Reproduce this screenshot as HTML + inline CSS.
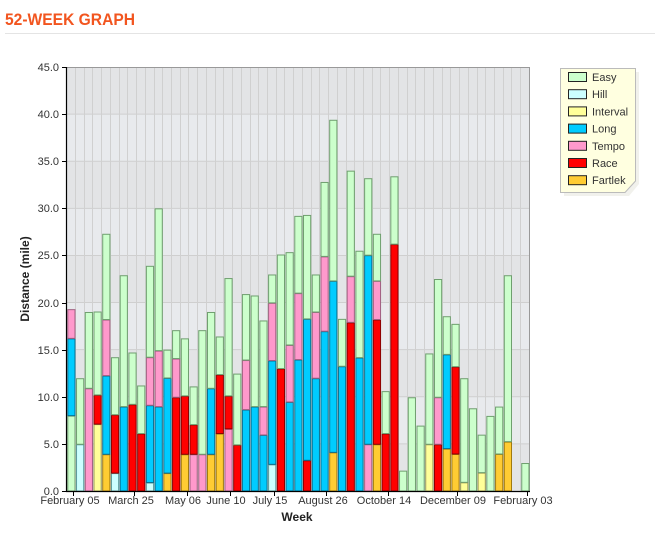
<!DOCTYPE html>
<html><head><meta charset="utf-8"><style>
html,body{margin:0;padding:0;background:#fff;width:655px;height:533px;overflow:hidden}
svg{display:block}
text{font-family:"Liberation Sans",sans-serif}
</style></head><body>
<svg id="s" width="655" height="533" xmlns="http://www.w3.org/2000/svg">
<text x="5" y="25" font-size="17" font-weight="bold" fill="#f2551f" textLength="130" lengthAdjust="spacingAndGlyphs">52-WEEK GRAPH</text>
<rect x="5" y="33" width="650" height="1" fill="#e4e4e4"/>
<g id="bg"></g>
<g id="bars"></g>
<line x1="66.5" y1="67" x2="66.5" y2="491" stroke="#000" stroke-width="1.2"/>
<line x1="66" y1="491.5" x2="530" y2="491.5" stroke="#000" stroke-width="1.2"/>
<g id="ticks" stroke="#000" stroke-width="1"></g>
<g font-size="11" fill="#333" text-anchor="end">
<text x="59" y="71">45.0</text><text x="59" y="118">40.0</text><text x="59" y="165">35.0</text><text x="59" y="212">30.0</text><text x="59" y="259">25.0</text><text x="59" y="307">20.0</text><text x="59" y="354">15.0</text><text x="59" y="401">10.0</text><text x="59" y="448">5.0</text><text x="59" y="495">0.0</text>
</g>
<g font-size="11" fill="#333" text-anchor="middle">
<text x="70" y="504">February 05</text><text x="131" y="504">March 25</text><text x="183" y="504">May 06</text><text x="226" y="504">June 10</text><text x="270" y="504">July 15</text><text x="323" y="504">August 26</text><text x="384" y="504">October 14</text><text x="453" y="504">December 09</text><text x="523" y="504">February 03</text>
</g>
<text x="297" y="521" font-size="12" font-weight="bold" fill="#222" text-anchor="middle">Week</text>
<text transform="translate(29,279) rotate(-90)" font-size="12" font-weight="bold" fill="#222" text-anchor="middle">Distance (mile)</text>
<path d="M562,70 H637 V182 L627,194 H562 Z" fill="#e8e8e0" transform="translate(2,2)" opacity="0.6"/>
<path d="M560.5,68.5 H635.5 V181 L625,192.5 H560.5 Z" fill="#ffffe0" stroke="#bbb"/>
<g id="leg" font-size="11" fill="#333"></g>
</svg>
<script>
var C={E:['#ccffcc','#6f9f6f'],H:['#ccffff','#5a9a9a'],I:['#ffff99','#9a9a55'],L:['#00ccff','#0a7090'],T:['#ff99cc','#a06080'],R:['#ff0000','#8a0000'],F:['#ffcc33','#a07a10']};
var D=[
"E8 L16.2 T19.3","H4.96 E11.97","T10.9 E19","I7.1 R10.2 E19.05","F3.9 L12.25 T18.2 E27.3","H1.9 R8.1 E14.2","L8.96 E22.9","R9.2 E14.7","R6.1 E11.2","H0.9 L9.1 T14.2 E23.9",
"L8.96 T14.9 E30","F1.9 L12 E15","R9.95 T14.06 E17.07","F3.9 R10.1 E16.2","T3.9 R7.05 E11.1","T3.9 E17.07","F3.9 L10.9 E19","F6.1 R12.36 E16.4","T6.6 R10.1 E22.6","R4.9 E12.46",
"L8.64 T13.9 E20.9","L8.96 E20.75","L5.95 T8.96 E18.1","H2.83 L13.85 T19.97 E22.98","R13 E25.1","L9.45 T15.5 E25.35","L13.95 T21 E29.2","R3.26 L18.27 E29.3","L11.97 T19 E22.98","L16.96 T24.9 E32.8",
"F4.1 L22.3 E39.4","L13.24 E18.27","R17.9 T22.8 E34","L14.16 E25.5","T4.96 L25.03 E33.2","F4.96 R18.2 T22.3 E27.3","R6.1 E10.6","R26.2 E33.4","E2.16","E9.95",
"E6.94","I4.96 E14.6","R4.96 T9.95 E22.5","F4.5 L14.5 E18.55","F3.93 R13.2 E17.74","I0.92 E11.97","E8.78","I1.95 E5.98","E7.97","F3.93 E8.96",
"F5.24 E22.9","","E2.97"];
var ns="http://www.w3.org/2000/svg";
function el(t,a,p){var e=document.createElementNS(ns,t);for(var k in a)e.setAttribute(k,a[k]);p.appendChild(e);return e;}
var bg=document.getElementById('bg'),bars=document.getElementById('bars'),leg=document.getElementById('leg'),tk=document.getElementById('ticks');
function Y(v){return 491-v*9.422;}
for(var i=0;i<9;i++){el('rect',{x:67,y:Y(45-i*5),width:463,height:47.1,fill:i%2?'#e8eaed':'#e3e4e6'},bg);}
for(var i=1;i<9;i++){el('line',{x1:67,x2:530,y1:Y(i*5),y2:Y(i*5),stroke:'#cfcfcf'},bg);}
for(var i=0;i<=53;i++){var x=Math.round(66.2+i*8.73)+0.5;el('line',{x1:x,x2:x,y1:67,y2:491,stroke:'#d0d0d0'},bg);}
el('line',{x1:67,x2:530,y1:67.5,y2:67.5,stroke:'#999'},bg);
el('line',{x1:529.5,x2:529.5,y1:67,y2:491,stroke:'#999'},bg);
for(var i=0;i<=9;i++){var y=Math.round(Y(i*5))+0.5;el('line',{x1:62,x2:67,y1:y,y2:y},tk);}
[0,7,13,18,23,29,36,44,52].forEach(function(w){var x=Math.round(73.3+w*8.73)+0.5;el('line',{x1:x,x2:x,y1:491,y2:496},tk);});
D.forEach(function(s,i){if(!s)return;var x=67.3+i*8.73,prev=0;s.split(' ').forEach(function(p){var k=p[0],v=parseFloat(p.slice(1));el('rect',{x:x+0.5,y:Y(v)+0.5,width:7.2,height:Math.max(0,Y(prev)-Y(v)-0.5),fill:C[k][0],stroke:C[k][1],'stroke-width':1},bars);prev=v;});});
[['E','Easy'],['H','Hill'],['I','Interval'],['L','Long'],['T','Tempo'],['R','Race'],['F','Fartlek']].forEach(function(a,i){var y=77+i*17.2;el('rect',{x:568.5,y:y-4.5,width:18,height:9,fill:C[a[0]][0],stroke:'#222'},leg);var t=el('text',{x:592,y:y+4},leg);t.textContent=a[1];});
</script>
</body></html>
